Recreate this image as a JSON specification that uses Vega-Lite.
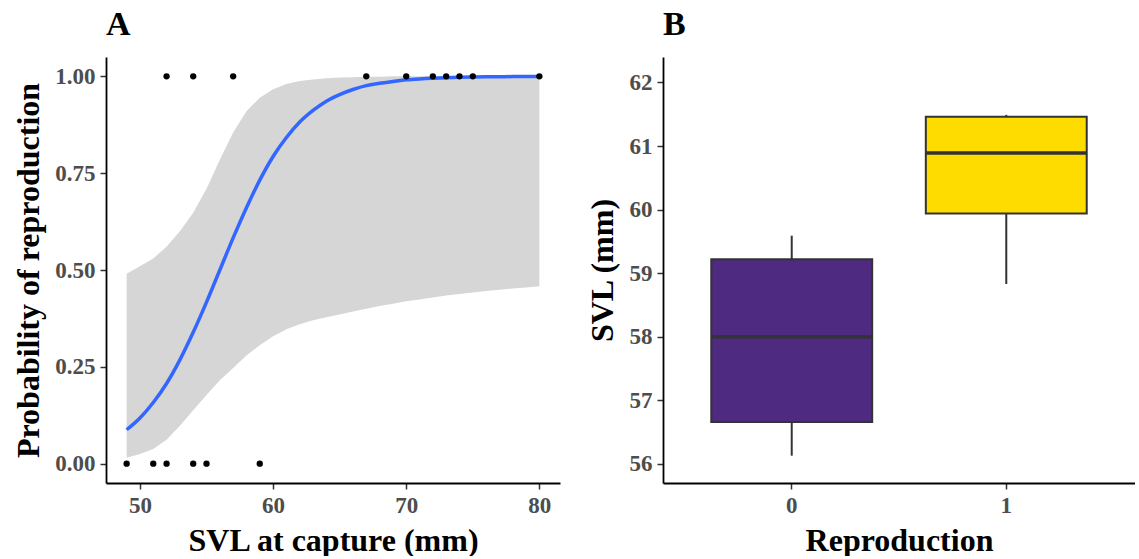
{
  "$schema": "https://vega.github.io/schema/vega-lite/v6.json",
  "padding": {"left": 12, "top": 8, "right": 0, "bottom": 0},
  "background": "white",
  "bounds": "flush",
  "spacing": 103,
  "config": {
    "view": {"stroke": null},
    "font": "Liberation Serif",
    "axis": {
      "grid": false,
      "domainColor": "black",
      "domainWidth": 1.8,
      "tickColor": "#333333",
      "tickWidth": 1.5,
      "tickSize": 6,
      "labelFont": "Liberation Serif",
      "labelFontWeight": "bold",
      "labelFontSize": 23,
      "labelColor": "#4D4D4D",
      "labelPadding": 5,
      "titleFont": "Liberation Serif",
      "titleFontWeight": "bold",
      "titleFontSize": 32,
      "titleColor": "black"
    },
    "title": {
      "font": "Liberation Serif",
      "fontWeight": "bold",
      "fontSize": 34,
      "color": "black",
      "anchor": "start",
      "frame": "group",
      "baseline": "alphabetic",
      "offset": 15
    }
  },
  "datasets": {
    "curve": [
      {"svl": 49, "fit": 0.0875, "lower": 0.015, "upper": 0.49},
      {"svl": 50, "fit": 0.118, "lower": 0.025, "upper": 0.51},
      {"svl": 51, "fit": 0.158, "lower": 0.038, "upper": 0.53},
      {"svl": 52, "fit": 0.207, "lower": 0.062, "upper": 0.56},
      {"svl": 53, "fit": 0.268, "lower": 0.098, "upper": 0.6},
      {"svl": 54, "fit": 0.339, "lower": 0.138, "upper": 0.648},
      {"svl": 55, "fit": 0.417, "lower": 0.177, "upper": 0.71},
      {"svl": 56, "fit": 0.5, "lower": 0.215, "upper": 0.785},
      {"svl": 57, "fit": 0.583, "lower": 0.247, "upper": 0.855},
      {"svl": 58, "fit": 0.661, "lower": 0.279, "upper": 0.91},
      {"svl": 59, "fit": 0.732, "lower": 0.306, "upper": 0.945},
      {"svl": 60, "fit": 0.793, "lower": 0.329, "upper": 0.967},
      {"svl": 61, "fit": 0.842, "lower": 0.347, "upper": 0.98},
      {"svl": 62, "fit": 0.882, "lower": 0.36, "upper": 0.988},
      {"svl": 63, "fit": 0.912, "lower": 0.37, "upper": 0.992},
      {"svl": 64, "fit": 0.936, "lower": 0.378, "upper": 0.995},
      {"svl": 65, "fit": 0.953, "lower": 0.385, "upper": 0.997},
      {"svl": 66, "fit": 0.966, "lower": 0.393, "upper": 0.998},
      {"svl": 67, "fit": 0.976, "lower": 0.4, "upper": 0.999},
      {"svl": 68, "fit": 0.982, "lower": 0.407, "upper": 0.999},
      {"svl": 69, "fit": 0.987, "lower": 0.413, "upper": 1.0},
      {"svl": 70, "fit": 0.991, "lower": 0.419, "upper": 1.0},
      {"svl": 71, "fit": 0.9935, "lower": 0.424, "upper": 1.0},
      {"svl": 72, "fit": 0.9953, "lower": 0.429, "upper": 1.0},
      {"svl": 73, "fit": 0.9967, "lower": 0.434, "upper": 1.0},
      {"svl": 74, "fit": 0.9976, "lower": 0.438, "upper": 1.0},
      {"svl": 75, "fit": 0.9983, "lower": 0.442, "upper": 1.0},
      {"svl": 76, "fit": 0.9988, "lower": 0.446, "upper": 1.0},
      {"svl": 77, "fit": 0.9991, "lower": 0.449, "upper": 1.0},
      {"svl": 78, "fit": 0.9994, "lower": 0.452, "upper": 1.0},
      {"svl": 79, "fit": 0.9995, "lower": 0.455, "upper": 1.0},
      {"svl": 80, "fit": 0.9997, "lower": 0.458, "upper": 1.0}
    ],
    "obs": [
      {"svl": 52, "repro": 1}, {"svl": 54, "repro": 1}, {"svl": 57, "repro": 1},
      {"svl": 67, "repro": 1}, {"svl": 70, "repro": 1}, {"svl": 72, "repro": 1},
      {"svl": 73, "repro": 1}, {"svl": 74, "repro": 1}, {"svl": 75, "repro": 1},
      {"svl": 80, "repro": 1},
      {"svl": 49, "repro": 0}, {"svl": 51, "repro": 0}, {"svl": 52, "repro": 0},
      {"svl": 54, "repro": 0}, {"svl": 55, "repro": 0}, {"svl": 59, "repro": 0}
    ],
    "box": [
      {"Reproduction": "0", "lower": 56.13, "q1": 56.66, "median": 58.0, "q3": 59.22, "upper": 59.59},
      {"Reproduction": "1", "lower": 58.83, "q1": 59.94, "median": 60.89, "q3": 61.46, "upper": 61.49}
    ]
  },
  "hconcat": [
    {
      "width": 454,
      "height": 426,
      "title": {"text": "A"},
      "layer": [
        {
          "data": {"name": "curve"},
          "mark": {"type": "area", "color": "#D6D6D6", "opacity": 1},
          "encoding": {
            "x": {"field": "svl", "type": "quantitative",
                  "scale": {"domain": [47.45, 81.55], "nice": false, "zero": false},
                  "axis": {"values": [50, 60, 70, 80], "title": "SVL at capture (mm)", "titlePadding": 8}},
            "y": {"field": "lower", "type": "quantitative",
                  "scale": {"domain": [-0.05, 1.05], "nice": false, "zero": false},
                  "axis": {"values": [0, 0.25, 0.5, 0.75, 1], "format": ".2f", "title": "Probability of reproduction", "titlePadding": 9}},
            "y2": {"field": "upper"}
          }
        },
        {
          "data": {"name": "curve"},
          "mark": {"type": "line", "color": "#3366FF", "strokeWidth": 3.5, "interpolate": "monotone"},
          "encoding": {
            "x": {"field": "svl", "type": "quantitative"},
            "y": {"field": "fit", "type": "quantitative"}
          }
        },
        {
          "data": {"name": "obs"},
          "mark": {"type": "circle", "color": "black", "size": 40, "opacity": 1},
          "encoding": {
            "x": {"field": "svl", "type": "quantitative"},
            "y": {"field": "repro", "type": "quantitative"}
          }
        }
      ]
    },
    {
      "width": 472,
      "height": 426,
      "title": {"text": "B"},
      "data": {"name": "box"},
      "encoding": {
        "x": {"field": "Reproduction", "type": "nominal",
              "scale": {"paddingInner": 0.25, "paddingOuter": 0.225},
              "axis": {"labelAngle": 0, "title": "Reproduction", "titlePadding": 8}}
      },
      "layer": [
        {
          "mark": {"type": "rule", "color": "#333333", "strokeWidth": 2},
          "encoding": {
            "y": {"field": "lower", "type": "quantitative",
                  "scale": {"domain": [55.7, 62.4], "nice": false, "zero": false},
                  "axis": {"values": [56, 57, 58, 59, 60, 61, 62], "format": "d", "title": "SVL (mm)", "titlePadding": 10}},
            "y2": {"field": "upper"}
          }
        },
        {
          "mark": {"type": "bar", "stroke": "#333333", "strokeWidth": 2},
          "encoding": {
            "y": {"field": "q1", "type": "quantitative"},
            "y2": {"field": "q3"},
            "fill": {"field": "Reproduction", "type": "nominal",
                     "scale": {"domain": ["0", "1"], "range": ["#4F2A81", "#FFDC00"]},
                     "legend": null}
          }
        },
        {
          "mark": {"type": "bar", "stroke": "#333333", "strokeWidth": 3.5},
          "encoding": {
            "y": {"field": "median", "type": "quantitative"},
            "y2": {"field": "median"}
          }
        }
      ]
    }
  ]
}
